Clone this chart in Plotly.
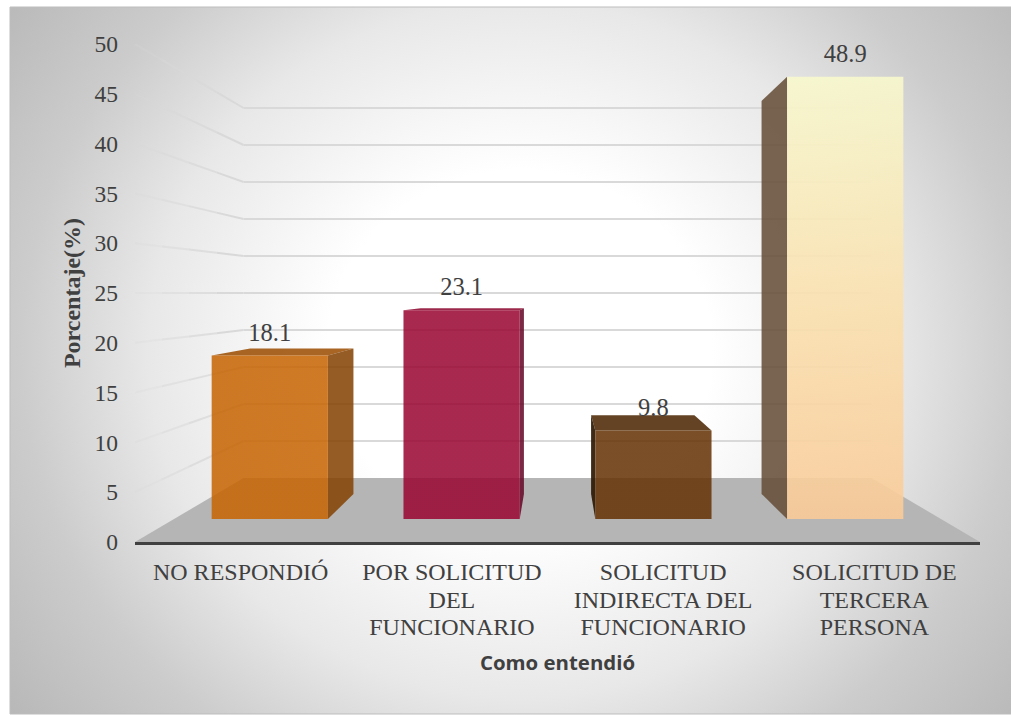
import plotly.graph_objects as go

W, H = 1011, 715

categories = ["NO RESPONDIÓ", "POR SOLICITUD<br>DEL<br>FUNCIONARIO",
              "SOLICITUD<br>INDIRECTA DEL<br>FUNCIONARIO",
              "SOLICITUD DE<br>TERCERA<br>PERSONA"]
values = [18.1, 23.1, 9.8, 48.9]
value_ticks = [0, 5, 10, 15, 20, 25, 30, 35, 40, 45, 50]

front_colors = [
    [[0, "rgba(199,100,2,0.86)"], [1, "rgba(199,100,2,0.86)"]],
    [[0, "rgba(154,6,50,0.86)"], [1, "rgba(154,6,50,0.86)"]],
    [[0, "rgba(101,51,5,0.86)"], [1, "rgba(101,51,5,0.86)"]],
    [[0, "rgba(250,203,152,0.9)"], [0.5, "rgba(250,225,175,0.9)"], [1, "rgba(248,248,205,0.9)"]],
]
side_colors = ["rgba(133,65,2,0.86)", "rgba(101,7,38,0.86)", "rgba(45,25,3,0.92)", "rgba(100,76,53,0.86)"]
top_colors = ["rgba(154,76,0,0.86)", "rgba(140,6,45,0.86)", "rgba(73,36,0,0.86)", "rgba(200,190,150,0.86)"]

# Perspective of the 3-D box, in data units of the front plane
VAN_X, VAN_V = 1.5, 25.0
BACK_WALL, BAR_FRONT, BAR_BACK = 0.743, 0.908, 0.807
BAR_HALF = 0.303
X0, X1 = -0.5, 3.5
WALL_STEPS = [(1.0, 0.25), (0.936, 0.5), (0.872, 0.75), (0.807, 1.0)]


def proj(x, v, s):
    return VAN_X + (x - VAN_X) * s, VAN_V + (v - VAN_V) * s


def poly(points, fill=None, gradient=None):
    xs, ys = zip(*[proj(*p) for p in points])
    kw = dict(fillgradient=gradient) if gradient else dict(fillcolor=fill)
    return go.Scatter(x=list(xs) + [xs[0]], y=list(ys) + [ys[0]], mode="lines", fill="toself",
                      line=dict(width=0), hoverinfo="skip", showlegend=False,
                      xaxis="x2", yaxis="y2", **kw)


def gridline(points, opacity=1.0):
    pts = [proj(*p) for p in points]
    return go.Scatter(x=[p[0] for p in pts], y=[p[1] for p in pts], mode="lines",
                      line=dict(color="#d9d9d9", width=2), opacity=opacity, hoverinfo="skip",
                      showlegend=False, xaxis="x2", yaxis="y2")


fig = go.Figure()

# Chart-area background with its radial shading (pixel-like axes covering the frame)
bg_cx, bg_cy, bg_rx, bg_ry = 520, 350, 640, 600
fig.add_trace(go.Scatter(
    x=[bg_cx - bg_rx, bg_cx + bg_rx, bg_cx + bg_rx, bg_cx - bg_rx, bg_cx - bg_rx],
    y=[bg_cy - bg_ry, bg_cy - bg_ry, bg_cy + bg_ry, bg_cy + bg_ry, bg_cy - bg_ry],
    mode="lines", fill="toself", line=dict(width=0), hoverinfo="skip", showlegend=False,
    fillgradient=dict(type="radial", colorscale=[[0, "#ffffff"], [0.3, "#ffffff"], [0.58, "#e8e8e8"],
                                                 [0.78, "#cccccc"], [1, "#b8b8b8"]]),
    xaxis="x", yaxis="y"))

# Floor
fig.add_trace(poly([(X0, 0, 1), (X1, 0, 1), (X1, 0, BACK_WALL), (X0, 0, BACK_WALL)], fill="#b5b5b5"))

# Gridlines: along the left wall (fading towards the front), then along the back wall
for t in value_ticks[1:]:
    for k, (s, op) in enumerate(WALL_STEPS):
        s_next = WALL_STEPS[k + 1][0] if k + 1 < len(WALL_STEPS) else BACK_WALL
        fig.add_trace(gridline([(X0, t, s), (X0, t, s_next)], op))
    fig.add_trace(gridline([(X0, t, BACK_WALL), (X1, t, BACK_WALL)]))

# Bars
for i, v in enumerate(values):
    l, r = i - BAR_HALF, i + BAR_HALF
    if v < VAN_V:
        fig.add_trace(poly([(l, v, BAR_FRONT), (r, v, BAR_FRONT), (r, v, BAR_BACK), (l, v, BAR_BACK)],
                           fill=top_colors[i]))
    e = r if i < VAN_X else l
    fig.add_trace(poly([(e, 0, BAR_FRONT), (e, v, BAR_FRONT), (e, v, BAR_BACK), (e, 0, BAR_BACK)],
                       fill=side_colors[i]))
    fig.add_trace(poly([(l, 0, BAR_FRONT), (r, 0, BAR_FRONT), (r, v, BAR_FRONT), (l, v, BAR_FRONT)],
                       gradient=dict(type="vertical", colorscale=front_colors[i])))

# Data labels
lab = [proj(i, v, BAR_FRONT) for i, v in enumerate(values)]
fig.add_trace(go.Scatter(x=[p[0] for p in lab], y=[p[1] + 2.1 for p in lab], mode="text",
                         text=[f"{v:.1f}" for v in values], textposition="middle center",
                         textfont=dict(family="Liberation Serif", size=24.5, color="#404040"),
                         cliponaxis=False, hoverinfo="skip", showlegend=False,
                         xaxis="x2", yaxis="y2"))

fig.update_layout(
    width=W, height=H, margin=dict(l=0, r=0, t=0, b=0), autosize=False,
    paper_bgcolor="white", plot_bgcolor="rgba(0,0,0,0)", showlegend=False,
    xaxis=dict(domain=[10 / W, 1], range=[10, W], visible=False, fixedrange=True),
    yaxis=dict(domain=[(H - 714) / H, (H - 7) / H], range=[714, 7], visible=False, fixedrange=True),
    xaxis2=dict(domain=[135 / W, 980 / W], range=[X0, X1], anchor="y2", showgrid=False, zeroline=False,
                showline=True, linecolor="#404040", linewidth=3, ticks="",
                tickmode="array", tickvals=list(range(len(categories))),
                ticktext=["<br>".join(f'<span style="font-size:24px">{p}</span>' for p in c.split("<br>"))
                          for c in categories],
                tickfont=dict(family="Liberation Serif", size=21.1, color="#404040"),
                ticklabelstandoff=10, tickangle=0, automargin=False,
                title=dict(text="Como entendió", standoff=17,
                           font=dict(family="Open Sans", size=20.4, color="#404040", weight="bold"))),
    yaxis2=dict(domain=[(H - 542) / H, (H - 44) / H], range=[0, 50], anchor="x2", showgrid=False, zeroline=False,
                showline=False, ticks="", tickmode="array", tickvals=value_ticks,
                tickfont=dict(family="Liberation Serif", size=23.5, color="#404040"),
                ticklabelstandoff=16, automargin=False,
                title=dict(text="Porcentaje(%)", standoff=7,
                           font=dict(family="Liberation Serif", size=24, color="#404040", weight="bold"))),
)
# Frame edge
fig.add_shape(type="rect", xref="paper", yref="paper", x0=10 / W, x1=1.01, y0=(H - 714) / H, y1=(H - 7) / H,
              line=dict(color="#bdbdbd", width=1), layer="above")

fig.write_html("out.html", config={"displayModeBar": False},
               post_script="document.body.style.margin='0';document.body.style.overflow='hidden';")
